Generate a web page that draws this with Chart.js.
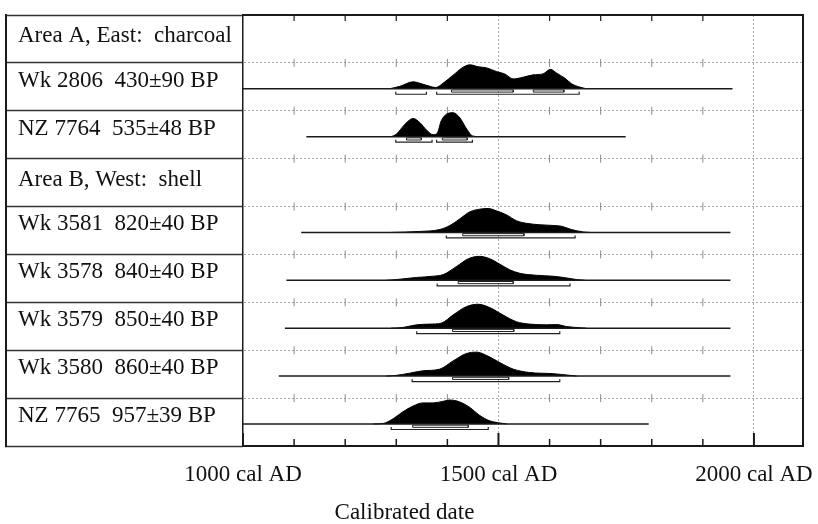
<!DOCTYPE html>
<html><head><meta charset="utf-8">
<script src="https://cdn.jsdelivr.net/npm/chart.js@4.4.1/dist/chart.umd.min.js"></script>
<style>html,body{margin:0;padding:0;background:#fff}</style>
</head><body>
<canvas id="c" width="818" height="524"></canvas>
<script>
// ---------- data ----------
const rowLabels = ['Area A, East:  charcoal','Wk 2806  430±90 BP','NZ 7764  535±48 BP','Area B, West:  shell','Wk 3581  820±40 BP','Wk 3578  840±40 BP','Wk 3579  850±40 BP','Wk 3580  860±40 BP','NZ 7765  957±39 BP'];
const headerRows = [0, 3];
const majorYears = [1000, 1500, 2000];
const minorYears = [1100, 1200, 1300, 1400, 1600, 1700, 1800, 1900];
const axisMin = 1000, axisMax = 2096;

const wk2806Years = [1287,1307,1333,1349,1366,1377,1392,1412,1428,1444,1460,1477,1496,1512,1529,1548,1568,1587,1602,1614,1630,1643,1659,1672];
const wk2806Prob  = [0,0.10,0.29,0.21,0.10,0.05,0.24,0.58,0.86,1.0,0.92,0.87,0.72,0.62,0.41,0.48,0.58,0.62,0.81,0.65,0.44,0.21,0.07,0];
const wk2806Span = [1000, 1958];
const wk2806Sigma1 = [[1408,1529],[1568,1628]];
const wk2806Sigma2 = [[1299,1359],[1379,1658]];

const nz7764Years = [1290,1300,1317,1333,1346,1359,1372,1380,1388,1401,1411,1424,1436,1447,1457];
const nz7764Prob  = [0,0.10,0.52,0.76,0.59,0.28,0.08,0.14,0.66,0.97,1.0,0.80,0.38,0.06,0];
const nz7764Span = [1124, 1749];
const nz7764Sigma1 = [[1320,1349],[1390,1439]];
const nz7764Sigma2 = [[1299,1370],[1379,1449]];

const wk3581Years = [1290,1346,1385,1405,1424,1444,1463,1480,1496,1516,1535,1555,1581,1607,1623,1643,1666,1679];
const wk3581Prob  = [0,0.04,0.12,0.29,0.56,0.86,0.97,1.0,0.90,0.73,0.49,0.38,0.32,0.29,0.26,0.12,0.02,0];
const wk3581Span = [1114, 1954];
const wk3581Sigma1 = [[1430,1550]];
const wk3581Sigma2 = [[1398,1650]];

const wk3578Years = [1280,1300,1340,1372,1392,1418,1441,1463,1483,1503,1522,1542,1574,1607,1627,1653,1669];
const wk3578Prob  = [0,0.03,0.12,0.17,0.24,0.58,0.90,1.0,0.90,0.67,0.44,0.29,0.21,0.17,0.12,0.03,0];
const wk3578Span = [1085, 1954];
const wk3578Sigma1 = [[1421,1529]];
const wk3578Sigma2 = [[1380,1640]];

const wk3579Years = [1290,1313,1340,1366,1388,1411,1437,1460,1483,1509,1535,1561,1594,1614,1633,1659,1672];
const wk3579Prob  = [0,0.03,0.14,0.17,0.21,0.55,0.90,1.0,0.86,0.55,0.27,0.17,0.14,0.15,0.07,0.02,0];
const wk3579Span = [1082, 1954];
const wk3579Sigma1 = [[1410,1530]];
const wk3579Sigma2 = [[1340,1620]];

const wk3580Years = [1280,1300,1326,1352,1385,1411,1437,1457,1477,1503,1529,1561,1607,1640,1653];
const wk3580Prob  = [0,0.03,0.12,0.22,0.29,0.63,0.94,1.0,0.86,0.56,0.29,0.15,0.10,0.03,0];
const wk3580Span = [1070, 1954];
const wk3580Sigma1 = [[1410,1520]];
const wk3580Sigma2 = [[1331,1620]];

const nz7765Years = [1255,1274,1294,1313,1333,1352,1372,1388,1405,1424,1444,1463,1483,1503,1516];
const nz7765Prob  = [0,0.02,0.22,0.51,0.75,0.88,0.88,0.93,1.0,0.92,0.69,0.36,0.13,0.04,0];
const nz7765Span = [1000, 1794];
const nz7765Sigma1 = [[1332,1441]];
const nz7765Sigma2 = [[1290,1480]];

// ---------- table built from the arrays ----------
const samples = [
  {row: 1, years: wk2806Years, prob: wk2806Prob, span: wk2806Span, s1: wk2806Sigma1, s2: wk2806Sigma2},
  {row: 2, years: nz7764Years, prob: nz7764Prob, span: nz7764Span, s1: nz7764Sigma1, s2: nz7764Sigma2},
  {row: 4, years: wk3581Years, prob: wk3581Prob, span: wk3581Span, s1: wk3581Sigma1, s2: wk3581Sigma2},
  {row: 5, years: wk3578Years, prob: wk3578Prob, span: wk3578Span, s1: wk3578Sigma1, s2: wk3578Sigma2},
  {row: 6, years: wk3579Years, prob: wk3579Prob, span: wk3579Span, s1: wk3579Sigma1, s2: wk3579Sigma2},
  {row: 7, years: wk3580Years, prob: wk3580Prob, span: wk3580Span, s1: wk3580Sigma1, s2: wk3580Sigma2},
  {row: 8, years: nz7765Years, prob: nz7765Prob, span: nz7765Span, s1: nz7765Sigma1, s2: nz7765Sigma2}
];

// ---------- styling constants ----------
const FONT = 'Liberation Serif, Times New Roman, serif';
const BASE = 0.04, PEAK = 0.5;
const S1_TOP = 0.025, S1_BOT = 0.07, S2_END = 0.065, S2_LINE = 0.115;
const HEADER_SHIFT = -0.06, SAMPLE_SHIFT = -0.13;
const yMin = -0.5, yMax = rowLabels.length - 0.5;
const DOT = '#a8a8a8', INK = '#1a1a1a';

const datasets = [];
samples.forEach(s => {
  const base = s.row + BASE;
  datasets.push({
    showLine: true, order: 3,
    data: s.years.map((yr, k) => ({x: yr, y: base - s.prob[k] * PEAK})),
    borderColor: '#000', borderWidth: 1, backgroundColor: '#000',
    fill: {value: base}, pointRadius: 0, cubicInterpolationMode: 'monotone'
  });
  datasets.push({
    showLine: true, order: 2,
    data: s.span.map(v => ({x: v, y: base})),
    borderColor: INK, borderWidth: 1.5, pointRadius: 0, fill: false
  });
});
const s1Pts = [], s2Pts = [];
samples.forEach(s => {
  const base = s.row + BASE;
  s.s1.forEach(([a, b]) => {
    s1Pts.push({x: a, y: base + S1_TOP}, {x: b, y: base + S1_TOP}, {x: b, y: base + S1_BOT},
               {x: a, y: base + S1_BOT}, {x: a, y: base + S1_TOP}, {x: a, y: null});
  });
  s.s2.forEach(([a, b]) => {
    s2Pts.push({x: a, y: base + S2_END}, {x: a, y: base + S2_LINE}, {x: b, y: base + S2_LINE},
               {x: b, y: base + S2_END}, {x: b, y: null});
  });
});
datasets.push({showLine: true, order: 1, data: s1Pts, borderColor: '#222', borderWidth: 1, pointRadius: 0, fill: false});
datasets.push({showLine: true, order: 1, data: s2Pts, borderColor: '#222', borderWidth: 1.2, pointRadius: 0, fill: false});

// small tick crosses on interior row boundaries
const innerPts = [];
for (let b = yMin + 1; b < yMax - 0.01; b += 1) minorYears.forEach(yr => innerPts.push({x: yr, y: b}));
datasets.push({data: innerPts, pointStyle: 'line', pointRotation: 90, pointRadius: 4,
  pointBorderColor: '#8a8a8a', pointBorderWidth: 1, order: 5});
// ticks hanging from top frame
datasets.push({data: minorYears.map(yr => ({x: yr, y: yMin})), pointStyle: 'dash', pointRotation: 90,
  pointRadius: 6, pointBorderColor: INK, pointBorderWidth: 1.2, order: 5});
// ticks rising from bottom axis
datasets.push({data: minorYears.map(yr => ({x: yr, y: yMax})), pointStyle: 'dash', pointRotation: 270,
  pointRadius: 7, pointBorderColor: INK, pointBorderWidth: 1.5, order: 5});
datasets.push({data: majorYears.map(yr => ({x: yr, y: yMax})), pointStyle: 'dash', pointRotation: 270,
  pointRadius: 13, pointBorderColor: INK, pointBorderWidth: 2, order: 5});

const bounds = rowLabels.map((_, i) => i - 0.5).concat([yMax]);

new Chart(document.getElementById('c'), {
  type: 'scatter',
  data: {datasets},
  options: {
    responsive: false, animation: false, events: [],
    layout: {padding: {left: 6, right: 15, top: 6, bottom: 0}},
    plugins: {
      legend: {display: false}, tooltip: {enabled: false},
      title: {display: true, text: 'Calibrated date', position: 'bottom', color: '#111',
        font: {family: FONT, size: 23, weight: 'normal', lineHeight: 1},
        padding: {top: 13.4, bottom: 0}}
    },
    scales: {
      x: {
        type: 'linear', position: 'bottom', min: axisMin, max: axisMax,
        afterBuildTicks: s => { s.ticks = majorYears.map(v => ({value: v})); },
        afterFit: s => { s.height = 41.6; s.paddingLeft = 0; s.paddingRight = 0; },
        ticks: {callback: v => v + ' cal AD', padding: 15, color: '#111', maxRotation: 0, autoSkip: false,
          font: {family: FONT, size: 23}},
        grid: {drawTicks: false, lineWidth: 1,
          color: c => (c.tick && c.tick.value === axisMin) ? 'rgba(0,0,0,0)' : DOT},
        border: {display: true, color: INK, width: 2, dash: [2, 2]}
      },
      xTop: {
        type: 'linear', position: 'top', min: axisMin, max: axisMax,
        ticks: {display: false}, grid: {drawOnChartArea: false, drawTicks: false},
        border: {display: true, color: INK, width: 2}
      },
      yRight: {
        type: 'linear', position: 'right', min: yMin, max: yMax, reverse: true,
        ticks: {display: false}, grid: {drawOnChartArea: false, drawTicks: false},
        border: {display: true, color: INK, width: 2}
      },
      yGrid: {
        type: 'linear', position: 'left', weight: 2, min: yMin, max: yMax, reverse: true,
        afterBuildTicks: s => { s.ticks = bounds.map(v => ({value: v})); },
        afterFit: s => { s.width = 0; s.paddingTop = 0; s.paddingBottom = 0; },
        ticks: {display: false},
        grid: {
          lineWidth: 1, tickLength: -237, tickWidth: 1.5, tickColor: '#333', tickBorderDash: [],
          color: c => (c.index === undefined || c.index === 0 || c.index === bounds.length - 1) ? 'rgba(0,0,0,0)' : DOT
        },
        border: {display: true, color: INK, width: 2, dash: [2, 2]}
      },
      ySp: {
        type: 'linear', position: 'left', weight: 1,
        afterFit: s => { s.width = 12; s.paddingTop = 0; s.paddingBottom = 0; },
        ticks: {display: false}, grid: {display: false}, border: {display: false}
      },
      y: {
        type: 'linear', position: 'left', weight: 0, min: yMin, max: yMax, reverse: true,
        afterBuildTicks: s => { s.ticks = rowLabels.map((_, i) => ({value: i + (headerRows.includes(i) ? HEADER_SHIFT : SAMPLE_SHIFT)})); },
        afterFit: s => { s.width = 225; s.paddingTop = 0; s.paddingBottom = 0; },
        ticks: {crossAlign: 'far', padding: 0, autoSkip: false, color: '#111',
          font: {family: FONT, size: 23}, callback: (v, i) => rowLabels[i]},
        grid: {drawOnChartArea: false, drawTicks: false},
        border: {display: true, color: INK, width: 1.5}
      }
    }
  }
});
</script>
</body></html>
